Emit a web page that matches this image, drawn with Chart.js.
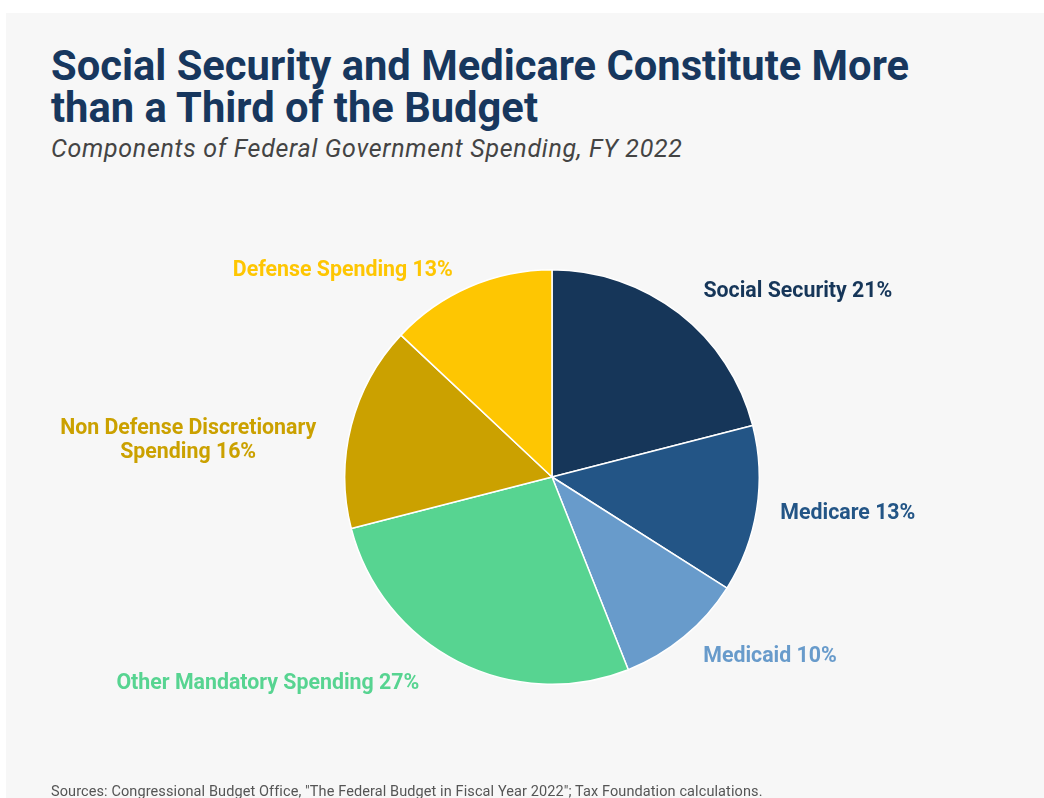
<!DOCTYPE html>
<html lang="en">
<head>
  <meta charset="UTF-8">
  <title>Social Security and Medicare Constitute More than a Third of the Budget</title>
  <script src="https://cdn.jsdelivr.net/npm/chart.js"></script>
  <style>
    body {
      margin: 0;
      padding: 0;
      background: #ffffff;
      font-family: Roboto, 'Noto Sans', sans-serif;
      width: 1044px;
      height: 798px;
      overflow: hidden;
      position: relative;
    }

    .panel {
      position: absolute;
      left: 6px;
      top: 13px;
      right: 0;
      bottom: 0;
      background: #f7f7f7;
    }

    h1 {
      position: absolute;
      left: 51px;
      top: 45px;
      margin: 0;
      font-size: 41.7px;
      line-height: 42px;
      font-weight: 700;
      color: #17375e;
    }

    .subtitle {
      position: absolute;
      left: 51px;
      top: 135px;
      margin: 0;
      font-size: 25px;
      letter-spacing: 0.7px;
      line-height: 28px;
      font-style: italic;
      color: #444444;
    }

    .source {
      position: absolute;
      left: 51px;
      top: 783px;
      margin: 0;
      font-size: 14.5px;
      letter-spacing: 0.1px;
      line-height: 18px;
      color: #555555;
      white-space: nowrap;
    }

    #pie {
      position: absolute;
      left: 0;
      top: 0;
    }
  </style>
</head>
<body>
  <div class="panel"></div>
  <h1>Social Security and Medicare Constitute More<br>than a Third of the Budget</h1>
  <p class="subtitle">Components of Federal Government Spending, FY 2022</p>
  <canvas id="pie" width="1044" height="798"></canvas>
  <p class="source">Sources: Congressional Budget Office, "The Federal Budget in Fiscal Year 2022"; Tax Foundation calculations.</p>

  <script>
    // data (share of federal spending, %)
    const categories = [
      'Social Security',
      'Medicare',
      'Medicaid',
      'Other Mandatory Spending',
      'Non Defense Discretionary Spending',
      'Defense Spending'
    ];
    const shares = [21, 13, 10, 27, 16, 13];
    const sliceColors = ['#163659', '#235586', '#689bcb', '#57d491', '#cba100', '#fec602'];

    // how each label is broken into lines
    const labelLines = [
      ['Social Security 21%'],
      ['Medicare 13%'],
      ['Medicaid 10%'],
      ['Other Mandatory Spending 27%'],
      ['Non Defense Discretionary', 'Spending 16%'],
      ['Defense Spending 13%']
    ];
    // small nudges so labels sit where the original put them
    const labelNudge = [[6, 2], [-6, 0], [0, -3], [-25, -5], [-6, 23], [-5, 11]];

    const outsideLabels = {
      id: 'outsideLabels',
      afterDraw(chart) {
        const ctx = chart.ctx;
        const arcs = chart.getDatasetMeta(0).data;
        ctx.save();
        ctx.font = '700 21.33px Roboto';
        ctx.textBaseline = 'middle';
        arcs.forEach((arc, i) => {
          const p = arc.getProps(['x', 'y', 'startAngle', 'endAngle', 'outerRadius'], true);
          const mid = (p.startAngle + p.endAngle) / 2;
          const dist = p.outerRadius + 30;
          const ax = p.x + Math.cos(mid) * dist + labelNudge[i][0];
          const ay = p.y + Math.sin(mid) * dist + labelNudge[i][1];
          const lines = labelLines[i];
          const lineH = 24;
          const blockW = Math.max(...lines.map(l => ctx.measureText(l).width));
          const right = Math.cos(mid) >= 0;
          const left = right ? ax : ax - blockW;
          const top = ay - (lines.length - 1) * lineH / 2;
          ctx.fillStyle = sliceColors[i];
          ctx.textAlign = 'center';
          lines.forEach((l, j) => {
            ctx.fillText(l, left + blockW / 2, top + j * lineH);
          });
        });
        ctx.restore();
      }
    };

    new Chart(document.getElementById('pie'), {
      type: 'pie',
      data: {
        labels: categories,
        datasets: [{
          data: shares,
          backgroundColor: sliceColors,
          borderColor: '#ffffff',
          borderWidth: 1.5
        }]
      },
      options: {
        responsive: false,
        animation: false,
        layout: {
          padding: { left: 344, right: 284, top: 269, bottom: 113 }
        },
        plugins: {
          legend: { display: false },
          tooltip: { enabled: false }
        }
      },
      plugins: [outsideLabels]
    });
  </script>
</body>
</html>
